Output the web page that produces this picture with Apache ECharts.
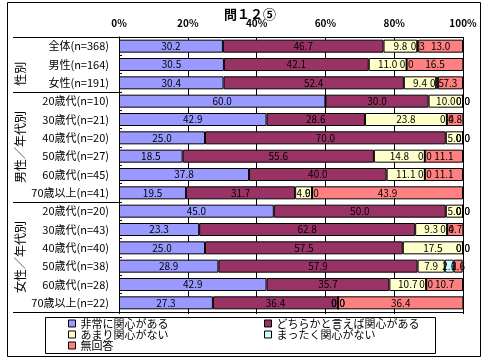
<!DOCTYPE html>
<html><head><meta charset="utf-8">
<script src="https://cdn.jsdelivr.net/npm/echarts@6/dist/echarts.min.js"></script>
<style>html,body{margin:0;padding:0;background:#fff}#c{width:484px;height:360px}</style>
</head><body><div id="c"></div>
<script>
const FONT = '"Noto Sans CJK JP", "DejaVu Sans", sans-serif';
const title = '問１２⑤';
const categories = ['全体(n=368)','男性(n=164)','女性(n=191)',
  '20歳代(n=10)','30歳代(n=21)','40歳代(n=20)','50歳代(n=27)','60歳代(n=45)','70歳以上(n=41)',
  '20歳代(n=20)','30歳代(n=43)','40歳代(n=40)','50歳代(n=38)','60歳代(n=28)','70歳以上(n=22)'];
const seriesNames = ['非常に関心がある','どちらかと言えば関心がある','あまり関心がない','まったく関心がない','無回答'];
const veryInterested   = [30.2,30.5,30.4,60.0,42.9,25.0,18.5,37.8,19.5,45.0,23.3,25.0,28.9,42.9,27.3];
const ratherInterested = [46.7,42.1,52.4,30.0,28.6,70.0,55.6,40.0,31.7,50.0,62.8,57.5,57.9,35.7,36.4];
const notMuch          = [9.8,11.0,9.4,10.0,23.8,5.0,14.8,11.1,4.9,5.0,9.3,17.5,7.9,10.7,0.0];
const notAtAll         = [0.3,0.0,0.5,0.0,0.0,0.0,0.0,0.0,0.0,0.0,0.0,0.0,2.6,0.0,0.0];
const noAnswer         = [13.0,16.5,7.3,0.0,4.8,0.0,11.1,11.1,43.9,0.0,4.7,0.0,2.6,10.7,36.4];
const groupLabels = ['性別','男性／年代別','女性／年代別'];
const xTicks = [0,20,40,60,80,100];
const colors = ['#9999FF','#993366','#FFFFCC','#CCFFFF','#FF8080'];
const allValues = [veryInterested, ratherInterested, notMuch, notAtAll, noAnswer];

const G = {left:119, right:21, top:37, bottom:48};
const W = 484, H = 360;
const plotH = H - G.top - G.bottom;
const cat = plotH / categories.length;

const chart = echarts.init(document.getElementById('c'), null, {renderer:'canvas'});

const series = allValues.map((vals, i) => ({
  name: seriesNames[i], type:'bar', stack:'t', xAxisIndex:0, yAxisIndex:0,
  data: vals, barWidth: 13,
  itemStyle:{color:colors[i], borderColor:'#000', borderWidth:1},
  label:{show:true, position:'inside', color:'#000', fontSize:10, fontFamily:FONT,
    formatter: p => p.value.toFixed(1)},
  emphasis:{disabled:true}, animation:false
}));

const legends = seriesNames.map((n,i) => ({
  data:[n], left: (i%2===0) ? 68 : 264, top: 318 + Math.floor(i/2)*11,
  orient:'horizontal', padding:0, icon:'rect', itemWidth:7, itemHeight:7, itemGap:2,
  itemStyle:{borderColor:'#000', borderWidth:1},
  textStyle:{fontSize:11, color:'#000', fontFamily:FONT},
  selectedMode:false
}));

const sepRows = [0, 3, 9, 15];
const graphics = [
  {type:'rect', shape:{x:7.5,y:2.5,width:473,height:354}, style:{fill:'none', stroke:'#000', lineWidth:1}, silent:true, z:-1},
  {type:'rect', shape:{x:45.5,y:317.5,width:390,height:36}, style:{fill:'none', stroke:'#000', lineWidth:1}, silent:true},
  ...sepRows.map(r => ({type:'line', shape:{x1:13, y1:Math.round(G.top + r*cat)+0.5, x2:G.left, y2:Math.round(G.top + r*cat)+0.5},
    style:{stroke:'#000', lineWidth:1}, silent:true})),
];
const groupSpans = [[1,3],[3,9],[9,15]];
groupSpans.forEach((s,i) => {
  graphics.push({type:'text', x:20, y:G.top + (s[0]+s[1])/2*cat, rotation:Math.PI/2,
    style:{text:groupLabels[i], fontSize:12, fontFamily:FONT, fill:'#000', align:'center', verticalAlign:'middle'}, silent:true});
});

chart.setOption({
  animation:false,
  title:{text:title, left:245, top:3, textAlign:'center', textStyle:{fontSize:13, fontWeight:'bold', fontFamily:FONT, color:'#000'}},
  grid:{left:G.left, right:G.right, top:G.top, bottom:G.bottom, containLabel:false},
  legend: legends,
  xAxis:[
    {type:'value', position:'top', min:0, max:100, interval:20,
     axisLabel:{formatter:'{value}%', fontSize:10, color:'#000', fontFamily:FONT, margin:9, fontWeight:'bold'},
     axisLine:{show:true, lineStyle:{color:'#000', width:1}}, axisTick:{show:false},
     splitLine:{show:true, lineStyle:{color:'#000', width:1}}},
    {type:'value', position:'bottom', min:0, max:100, interval:20,
     axisLabel:{show:false}, axisLine:{show:true, onZero:false, lineStyle:{color:'#000'}},
     axisTick:{show:true, length:2, lineStyle:{color:'#000'}}, splitLine:{show:false}}
  ],
  yAxis:{type:'category', inverse:true, data:categories,
    axisLabel:{fontSize:11, color:'#000', fontFamily:FONT, margin:10},
    axisLine:{show:true, lineStyle:{color:'#000'}},
    axisTick:{show:true, inside:true, length:3, lineStyle:{color:'#000'}}},
  series: series,
  graphic: graphics
});
</script></body></html>
